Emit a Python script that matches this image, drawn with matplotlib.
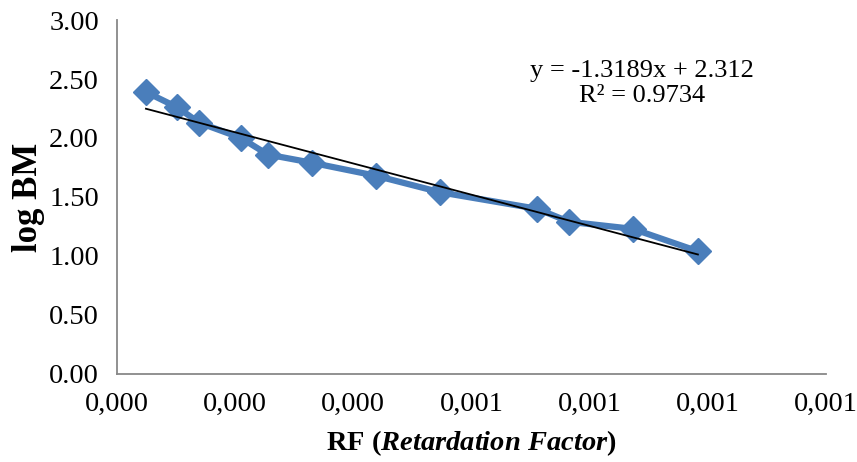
import numpy as np
import matplotlib.pyplot as plt
from matplotlib.ticker import FuncFormatter

plt.rcParams["font.family"] = ["Liberation Serif", "DejaVu Serif"]
plt.rcParams["mathtext.fontset"] = "custom"
plt.rcParams["mathtext.it"] = "Liberation Serif:italic:bold"
plt.rcParams["mathtext.rm"] = "Liberation Serif:bold"

# data
rf = [0.000049, 0.000102, 0.000139, 0.000210, 0.000255, 0.000330,
      0.000438, 0.000547, 0.000711, 0.000765, 0.000873, 0.000983]
log_bm = [2.39, 2.26, 2.13, 2.00, 1.86, 1.79, 1.68, 1.54, 1.40, 1.29, 1.23, 1.04]
x_ticks = [0.0, 0.0002, 0.0004, 0.0006, 0.0008, 0.0010, 0.0012]
y_ticks = [0.0, 0.5, 1.0, 1.5, 2.0, 2.5, 3.0]
eq_text = "y = -1.3189x + 2.312\nR\u00b2 = 0.9734"

fig = plt.figure(figsize=(8.57, 4.62), dpi=100)
ax = fig.add_axes([0.1365, 0.1905, 0.8275, 0.7662])

ax.plot(rf, log_bm, color="#4a7ebb", lw=4.5, marker="D", ms=13,
        markeredgecolor="#4a7ebb", zorder=2)

# linear trendline
coef = np.polyfit(rf, log_bm, 1)
xs = np.array([min(rf), max(rf)])
ax.plot(xs, np.polyval(coef, xs), color="black", lw=1.3, zorder=3)

ax.text(0.000888, 2.46, eq_text, fontsize=19, ha="center", va="center",
        linespacing=1.2)

ax.set_xlim(0, 0.0012)
ax.set_ylim(0, 3.0)
ax.set_xticks(x_ticks)
ax.set_yticks(y_ticks)
ax.xaxis.set_major_formatter(FuncFormatter(lambda v, p: f"{v:.3f}".replace(".", ",")))
ax.yaxis.set_major_formatter(FuncFormatter(lambda v, p: f"{v:.2f}"))
ax.tick_params(length=0, labelsize=20.5, pad=13)

for s in ["top", "right"]:
    ax.spines[s].set_visible(False)
for s in ["left", "bottom"]:
    ax.spines[s].set_color("#888888")
    ax.spines[s].set_linewidth(1.3)

ax.set_xlabel("RF ($\\it{Retardation\\ Factor}$)", fontsize=20.5,
              fontweight="bold", labelpad=8)
ax.set_ylabel("log BM", fontsize=25, fontweight="bold", labelpad=3)

fig.savefig("out.png", dpi=100)
